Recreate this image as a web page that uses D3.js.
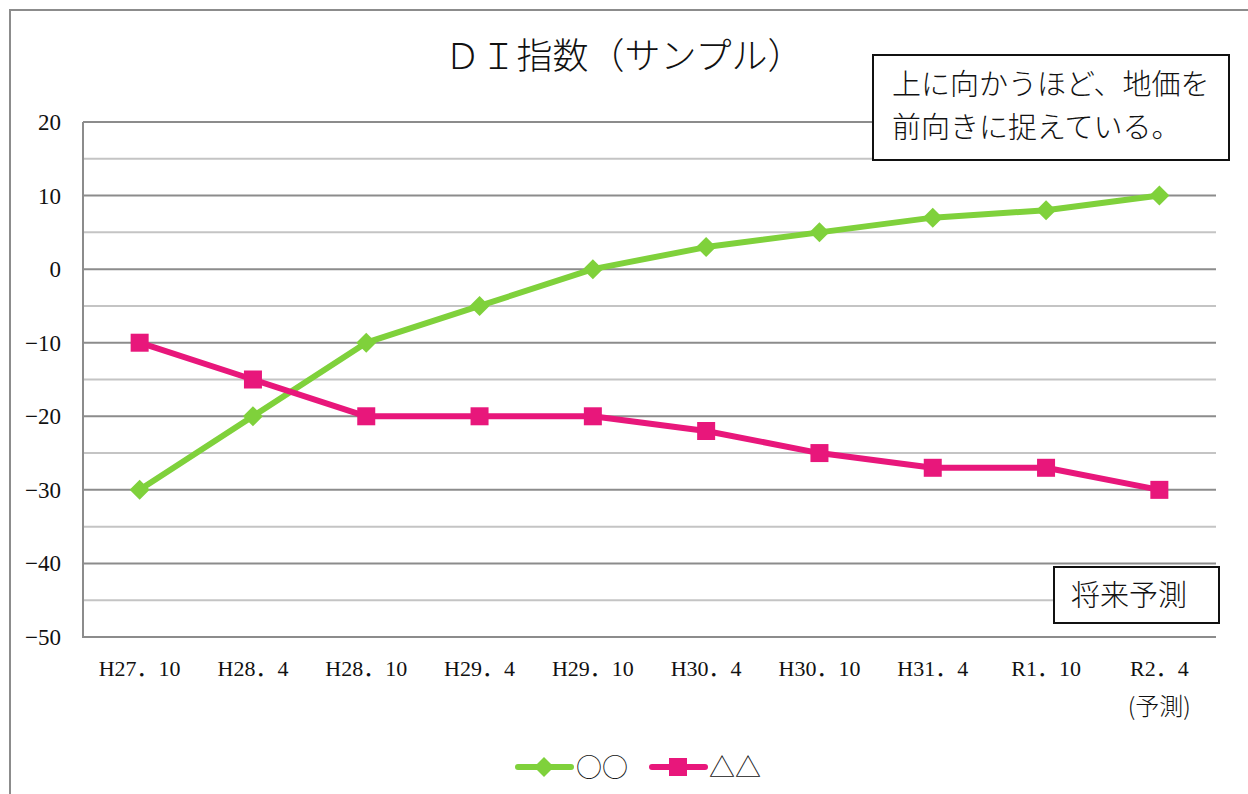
<!DOCTYPE html>
<html>
<head>
<meta charset="utf-8">
<script src="https://cdn.jsdelivr.net/npm/d3@7"></script>
<style>
  body { margin: 0; background: #fff; }
  svg text { font-family: "Liberation Serif", "DejaVu Serif", "Noto Sans CJK JP", serif; fill: #111; }
  svg text.cjk { font-family: "Noto Sans CJK JP", sans-serif; font-weight: 300; }
</style>
</head>
<body>
<div id="chart"></div>
<script>
// Data
const categories = ["H27．10", "H28．4", "H28．10", "H29．4", "H29．10", "H30．4", "H30．10", "H31．4", "R1．10", "R2．4"];
const seriesA = [-30, -20, -10, -5, 0, 3, 5, 7, 8, 10];       // ○○
const seriesB = [-10, -15, -20, -20, -20, -22, -25, -27, -27, -30]; // △△
const yTicks = [20, 10, 0, -10, -20, -30, -40, -50];
const minorTicks = [15, 5, -5, -15, -25, -35, -45];

const W = 1248, H = 794;
const plot = {left: 83, right: 1216, top: 122, bottom: 637};

const svg = d3.select("#chart").append("svg")
    .attr("width", W)
    .attr("height", H);

// outer frame (chart area border)
svg.append("path")
    .attr("d", `M10,${H} L10,10 L${W},10`)
    .attr("fill", "none")
    .attr("stroke", "#8c8c8c")
    .attr("stroke-width", 2);

// Scales
const xScale = d3.scalePoint()
    .domain(categories)
    .range([plot.left, plot.right])
    .padding(0.5);

const yScale = d3.scaleLinear()
    .domain([-50, 20])
    .range([plot.bottom, plot.top]);

// Minor gridlines
svg.append("g").selectAll("line")
    .data(minorTicks)
    .enter().append("line")
    .attr("x1", plot.left).attr("x2", plot.right)
    .attr("y1", d => yScale(d)).attr("y2", d => yScale(d))
    .attr("stroke", "#c4c4c4")
    .attr("stroke-width", 2);

// Major gridlines
svg.append("g").selectAll("line")
    .data(yTicks)
    .enter().append("line")
    .attr("x1", plot.left).attr("x2", plot.right)
    .attr("y1", d => yScale(d)).attr("y2", d => yScale(d))
    .attr("stroke", "#8c8c8c")
    .attr("stroke-width", 2);

// Y axis line
svg.append("line")
    .attr("x1", plot.left).attr("x2", plot.left)
    .attr("y1", plot.top).attr("y2", plot.bottom + 1)
    .attr("stroke", "#8c8c8c")
    .attr("stroke-width", 2);

// Y axis labels
svg.append("g").selectAll("text")
    .data(yTicks)
    .enter().append("text")
    .attr("x", 61)
    .attr("y", d => yScale(d) + 8)
    .attr("text-anchor", "end")
    .style("font-size", "23px")
    .text(d => d < 0 ? "−" + Math.abs(d) : d);

// X axis labels
svg.append("g").selectAll("text")
    .data(categories)
    .enter().append("text")
    .attr("x", d => xScale(d))
    .attr("y", 676)
    .attr("text-anchor", "middle")
    .style("font-size", "22px")
    .text(d => d);

svg.append("text")
    .attr("class", "cjk")
    .attr("x", xScale(categories[categories.length - 1]))
    .attr("y", 715)
    .attr("text-anchor", "middle")
    .style("font-size", "24px")
    .text("(予測)");

// Lines
const line = d3.line()
    .x((d, i) => xScale(categories[i]))
    .y(d => yScale(d));

const green = "#7fd13b";
const pink = "#e8177b";

svg.append("path")
    .datum(seriesA)
    .attr("d", line)
    .attr("fill", "none")
    .attr("stroke", green)
    .attr("stroke-width", 6)
    .attr("stroke-linejoin", "round");

svg.append("path")
    .datum(seriesB)
    .attr("d", line)
    .attr("fill", "none")
    .attr("stroke", pink)
    .attr("stroke-width", 6)
    .attr("stroke-linejoin", "round");

// Markers
const diamond = d3.symbol().type(d3.symbolSquare).size(200);
svg.append("g").selectAll("path")
    .data(seriesA)
    .enter().append("path")
    .attr("d", diamond)
    .attr("transform", (d, i) => `translate(${xScale(categories[i])},${yScale(d)}) rotate(45)`)
    .attr("fill", green);

svg.append("g").selectAll("rect")
    .data(seriesB)
    .enter().append("rect")
    .attr("x", (d, i) => xScale(categories[i]) - 9)
    .attr("y", d => yScale(d) - 9)
    .attr("width", 18)
    .attr("height", 18)
    .attr("fill", pink);

// Title
svg.append("text")
    .attr("class", "cjk")
    .attr("x", 624)
    .attr("y", 69)
    .attr("text-anchor", "middle")
    .style("font-size", "36px")
    .text("ＤＩ指数（サンプル）");

// Annotation box
svg.append("rect")
    .attr("x", 873).attr("y", 55)
    .attr("width", 356).attr("height", 105)
    .attr("fill", "#fff")
    .attr("stroke", "#111")
    .attr("stroke-width", 2);

svg.append("text")
    .attr("class", "cjk")
    .attr("x", 892).attr("y", 95)
    .style("font-size", "29px")
    .text("上に向かうほど、地価を");
svg.append("text")
    .attr("class", "cjk")
    .attr("x", 892).attr("y", 138)
    .style("font-size", "29px")
    .text("前向きに捉えている。");

// Forecast box
svg.append("rect")
    .attr("x", 1054).attr("y", 567)
    .attr("width", 165).attr("height", 56)
    .attr("fill", "#fff")
    .attr("stroke", "#111")
    .attr("stroke-width", 2);

svg.append("text")
    .attr("class", "cjk")
    .attr("x", 1129).attr("y", 606)
    .attr("text-anchor", "middle")
    .style("font-size", "29px")
    .text("将来予測");

// Legend
const legend = svg.append("g");
legend.append("line")
    .attr("x1", 518).attr("x2", 571).attr("y1", 767).attr("y2", 767)
    .attr("stroke", green).attr("stroke-width", 6).attr("stroke-linecap", "round");
legend.append("path")
    .attr("d", diamond)
    .attr("transform", "translate(544,767) rotate(45)")
    .attr("fill", green);
legend.append("text")
    .attr("class", "cjk")
    .attr("x", 576).attr("y", 777)
    .style("font-size", "26px")
    .text("○○");

legend.append("line")
    .attr("x1", 652).attr("x2", 705).attr("y1", 767).attr("y2", 767)
    .attr("stroke", pink).attr("stroke-width", 6).attr("stroke-linecap", "round");
legend.append("rect")
    .attr("x", 669).attr("y", 758).attr("width", 18).attr("height", 18)
    .attr("fill", pink);
legend.append("text")
    .attr("class", "cjk")
    .attr("x", 709).attr("y", 777)
    .style("font-size", "26px")
    .text("△△");
</script>
</body>
</html>
